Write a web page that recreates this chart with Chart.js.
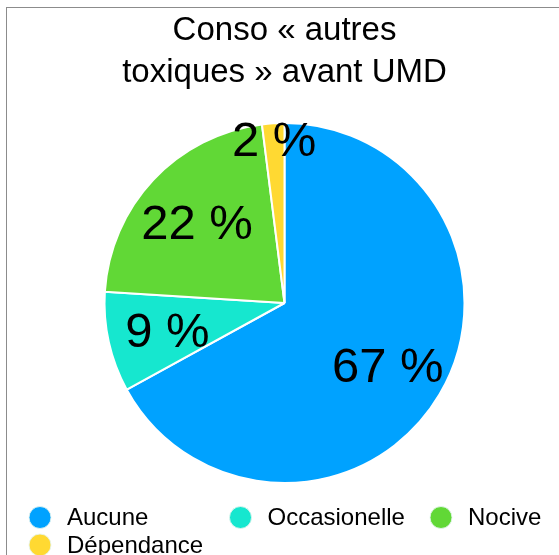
<!DOCTYPE html>
<html>
<head>
<meta charset="utf-8">
<script src="https://cdn.jsdelivr.net/npm/chart.js@4/dist/chart.umd.min.js"></script>
<style>
  html, body { margin: 0; padding: 0; background: #fff; overflow: hidden; }
  body { width: 559px; height: 555px; position: relative; }
  #frame { position: absolute; left: 6px; top: 7px; width: 700px; height: 700px;
           border-top: 1px solid #8c8c8c; border-left: 1px solid #8c8c8c; box-sizing: border-box; }
  #wrap { position: absolute; left: 0; top: 0; width: 559px; height: 555px; }
</style>
</head>
<body>
<div id="frame"></div>
<div id="wrap"><canvas id="c" width="559" height="555"></canvas></div>
<script>
const titleLines = ['Conso « autres', 'toxiques » avant UMD'];
const categories = ['Aucune', 'Occasionelle', 'Nocive', 'Dépendance'];
const values = [67, 9, 22, 2];
const sliceColors = ['#00A2FF', '#16E7CF', '#61D836', '#FFD932'];

const FONT = '"Liberation Sans", Arial, Helvetica, sans-serif';

const sliceLabels = {
  id: 'sliceLabels',
  afterDatasetsDraw(chart) {
    const ctx = chart.ctx;
    const meta = chart.getDatasetMeta(0);
    const ds = chart.data.datasets[0];
    const size = 49;
    ctx.save();
    ctx.font = size + 'px ' + FONT;
    ctx.fillStyle = '#000';
    ctx.textAlign = 'center';
    ctx.textBaseline = 'middle';
    meta.data.forEach((arc, i) => {
      const p = arc.getProps(['x','y','startAngle','endAngle','outerRadius'], true);
      const mid = (p.startAngle + p.endAngle) / 2;
      const span = p.endAngle - p.startAngle;
      const f = span < 0.3 ? 0.92 : 2 / 3;
      const r = p.outerRadius * f;
      ctx.fillText(ds.data[i] + ' %', p.x + Math.cos(mid) * r, p.y + Math.sin(mid) * r + size * 0.09);
    });
    ctx.restore();
  }
};

const gridLegend = {
  id: 'gridLegend',
  afterDraw(chart) {
    const ctx = chart.ctx;
    const cols = 3, colW = 200.5, x0 = 40, y0 = 517.5, rowH = 27.5, rad = 11, gap = 27;
    const ds = chart.data.datasets[0];
    ctx.save();
    ctx.font = '24px ' + FONT;
    ctx.textBaseline = 'middle';
    ctx.textAlign = 'left';
    chart.data.labels.forEach((lab, i) => {
      const cx = x0 + (i % cols) * colW;
      const cy = y0 + Math.floor(i / cols) * rowH;
      ctx.beginPath();
      ctx.arc(cx, cy, rad, 0, Math.PI * 2);
      ctx.fillStyle = ds.backgroundColor[i];
      ctx.fill();
      ctx.lineWidth = 1;
      ctx.strokeStyle = 'rgba(230,245,240,0.9)';
      ctx.stroke();
      ctx.fillStyle = '#000';
      ctx.fillText(lab, cx + gap, cy + 1);
    });
    ctx.restore();
  }
};

new Chart(document.getElementById('c'), {
  type: 'pie',
  data: {
    labels: categories,
    datasets: [{
      data: values,
      backgroundColor: sliceColors,
      borderColor: '#ffffff',
      borderWidth: 2,
      hoverOffset: 0,
      radius: 180
    }]
  },
  options: {
    responsive: false,
    animation: false,
    events: [],
    layout: { padding: { left: 10, right: 0, top: 0, bottom: 43 } },
    plugins: {
      legend: { display: false },
      tooltip: { enabled: false },
      title: {
        display: true,
        text: titleLines,
        color: '#000',
        font: { family: FONT, size: 33, weight: 'normal', lineHeight: '42px' },
        padding: { top: 10, bottom: 0 }
      }
    }
  },
  plugins: [sliceLabels, gridLegend]
});
</script>
</body>
</html>
